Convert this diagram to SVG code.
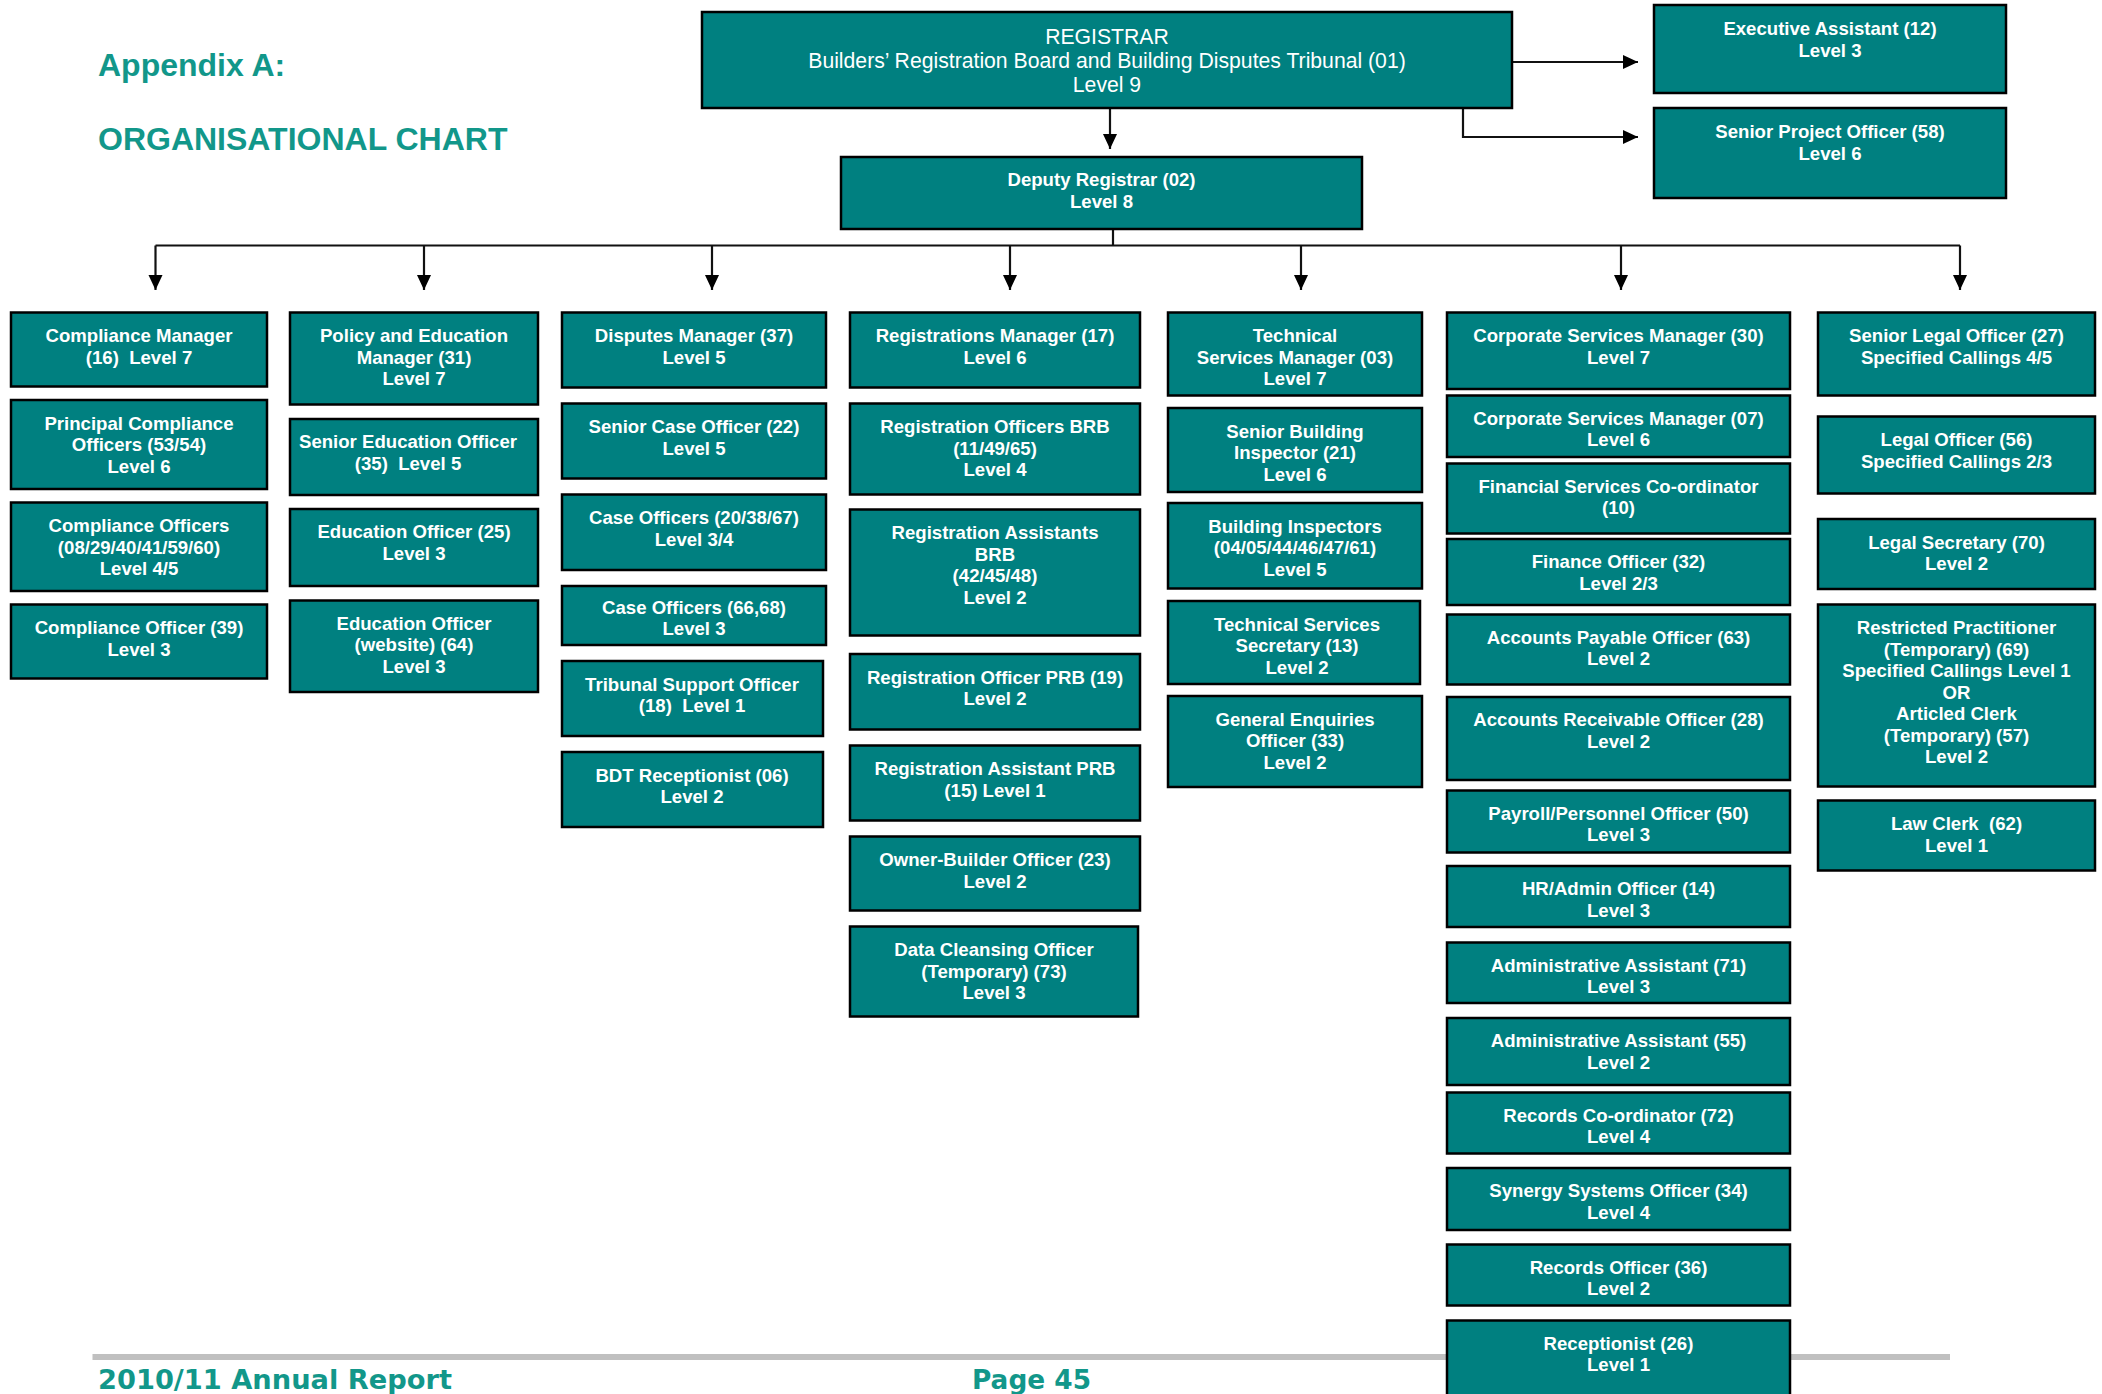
<svg xmlns="http://www.w3.org/2000/svg" width="2102" height="1394" viewBox="0 0 2102 1394">
<defs>
<style>
.box{fill:#008080;stroke:#000;stroke-width:2.5}
.t{font-family:"Liberation Sans",Arial,sans-serif;font-weight:bold;font-size:18.6px;fill:#fff;text-anchor:middle;white-space:pre}
.tr{font-family:"Liberation Sans",Arial,sans-serif;font-size:21.2px;fill:#fff;text-anchor:middle}
.title{font-family:"Liberation Sans",Arial,sans-serif;font-weight:bold;font-size:32px;fill:#12978a}
.foot{font-family:"DejaVu Sans",Verdana,sans-serif;font-weight:bold;font-size:26.8px;fill:#12978a}
.ln{fill:none;stroke:#111;stroke-width:2.2}
</style>
<marker id="ah" markerUnits="userSpaceOnUse" markerWidth="16" markerHeight="15" refX="15" refY="7" orient="auto">
<path d="M0,0 L15,7 L0,14 z" fill="#000"/>
</marker>
</defs>
<rect width="2102" height="1394" fill="#fff"/>

<text class="title" x="98" y="76">Appendix A:</text>
<text class="title" x="98" y="150">ORGANISATIONAL CHART</text>

<rect x="92.5" y="1354" width="1857.5" height="6" fill="#c0c0c0"/>
<text class="foot" x="98" y="1389" textLength="354" lengthAdjust="spacingAndGlyphs">2010/11 Annual Report</text>
<text class="foot" x="972" y="1389" textLength="119" lengthAdjust="spacingAndGlyphs">Page 45</text>

<g id="connectors">
<line class="ln" x1="1110" y1="108" x2="1110" y2="149" marker-end="url(#ah)"/>
<line class="ln" x1="1512" y1="62" x2="1638" y2="62" marker-end="url(#ah)"/>
<path class="ln" d="M1463,108 V137 H1638" marker-end="url(#ah)"/>
<line class="ln" x1="1113" y1="229" x2="1113" y2="245.5"/>
<line class="ln" x1="155.5" y1="245.5" x2="1960" y2="245.5"/>
<line class="ln" x1="155.5" y1="245.5" x2="155.5" y2="290" marker-end="url(#ah)"/>
<line class="ln" x1="424" y1="245.5" x2="424" y2="290" marker-end="url(#ah)"/>
<line class="ln" x1="712" y1="245.5" x2="712" y2="290" marker-end="url(#ah)"/>
<line class="ln" x1="1010" y1="245.5" x2="1010" y2="290" marker-end="url(#ah)"/>
<line class="ln" x1="1301" y1="245.5" x2="1301" y2="290" marker-end="url(#ah)"/>
<line class="ln" x1="1621" y1="245.5" x2="1621" y2="290" marker-end="url(#ah)"/>
<line class="ln" x1="1960" y1="245.5" x2="1960" y2="290" marker-end="url(#ah)"/>
</g>

<g id="registrar"><rect class="box" x="702" y="12" width="810" height="96"/>
<text class="tr" x="1107" y="44">REGISTRAR<tspan x="1107" dy="24">Builders’ Registration Board and Building Disputes Tribunal (01)</tspan><tspan x="1107" dy="24">Level 9</tspan></text></g>
<g id="deputy"><rect class="box" x="841" y="157" width="521" height="72"/>
<text class="t" x="1101.5" y="186">Deputy Registrar (02)<tspan x="1101.5" dy="21.5">Level 8</tspan></text></g>
<g id="exec-assistant"><rect class="box" x="1654" y="5" width="352" height="88"/>
<text class="t" x="1830" y="35">Executive Assistant (12)<tspan x="1830" dy="21.5">Level 3</tspan></text></g>
<g id="senior-project"><rect class="box" x="1654" y="108" width="352" height="90"/>
<text class="t" x="1830" y="138">Senior Project Officer (58)<tspan x="1830" dy="21.5">Level 6</tspan></text></g>

<!-- Column 1 -->
<g id="compliance-manager"><rect class="box" x="11" y="312.5" width="256" height="74"/>
<text class="t" x="139" y="342" xml:space="preserve">Compliance Manager<tspan x="139" dy="21.5">(16)  Level 7</tspan></text></g>
<g id="principal-compliance"><rect class="box" x="11" y="400" width="256" height="89"/>
<text class="t" x="139" y="429.5">Principal Compliance<tspan x="139" dy="21.5">Officers (53/54)</tspan><tspan x="139" dy="21.5">Level 6</tspan></text></g>
<g id="compliance-officers"><rect class="box" x="11" y="502.5" width="256" height="88.5"/>
<text class="t" x="139" y="532">Compliance Officers<tspan x="139" dy="21.5">(08/29/40/41/59/60)</tspan><tspan x="139" dy="21.5">Level 4/5</tspan></text></g>
<g id="compliance-officer-39"><rect class="box" x="11" y="604.5" width="256" height="74"/>
<text class="t" x="139" y="634">Compliance Officer (39)<tspan x="139" dy="21.5">Level 3</tspan></text></g>

<!-- Column 2 -->
<g id="policy-manager"><rect class="box" x="290" y="312.5" width="248" height="92"/>
<text class="t" x="414" y="342">Policy and Education<tspan x="414" dy="21.5">Manager (31)</tspan><tspan x="414" dy="21.5">Level 7</tspan></text></g>
<g id="senior-education"><rect class="box" x="290" y="419" width="248" height="76"/>
<text class="t" x="408" y="448" xml:space="preserve">Senior Education Officer<tspan x="408" dy="21.5">(35)  Level 5</tspan></text></g>
<g id="education-25"><rect class="box" x="290" y="509" width="248" height="77"/>
<text class="t" x="414" y="538">Education Officer (25)<tspan x="414" dy="21.5">Level 3</tspan></text></g>
<g id="education-64"><rect class="box" x="290" y="600.5" width="248" height="91.5"/>
<text class="t" x="414" y="629.5">Education Officer<tspan x="414" dy="21.5">(website) (64)</tspan><tspan x="414" dy="21.5">Level 3</tspan></text></g>

<!-- Column 3 -->
<g id="disputes-manager"><rect class="box" x="562" y="312.5" width="264" height="75"/>
<text class="t" x="694" y="342">Disputes Manager (37)<tspan x="694" dy="21.5">Level 5</tspan></text></g>
<g id="senior-case"><rect class="box" x="562" y="403.5" width="264" height="75"/>
<text class="t" x="694" y="433">Senior Case Officer (22)<tspan x="694" dy="21.5">Level 5</tspan></text></g>
<g id="case-officers-1"><rect class="box" x="562" y="494.5" width="264" height="75.5"/>
<text class="t" x="694" y="524">Case Officers (20/38/67)<tspan x="694" dy="21.5">Level 3/4</tspan></text></g>
<g id="case-officers-2"><rect class="box" x="562" y="586" width="264" height="59"/>
<text class="t" x="694" y="613.5">Case Officers (66,68)<tspan x="694" dy="21.5">Level 3</tspan></text></g>
<g id="tribunal-support"><rect class="box" x="562" y="661" width="261" height="75"/>
<text class="t" x="692" y="690.5" xml:space="preserve">Tribunal Support Officer<tspan x="692" dy="21.5">(18)  Level 1</tspan></text></g>
<g id="bdt-receptionist"><rect class="box" x="562" y="752" width="261" height="75"/>
<text class="t" x="692" y="781.5">BDT Receptionist (06)<tspan x="692" dy="21.5">Level 2</tspan></text></g>

<!-- Column 4 -->
<g id="registrations-manager"><rect class="box" x="850" y="312.5" width="290" height="75"/>
<text class="t" x="995" y="342">Registrations Manager (17)<tspan x="995" dy="21.5">Level 6</tspan></text></g>
<g id="registration-officers-brb"><rect class="box" x="850" y="403.5" width="290" height="91"/>
<text class="t" x="995" y="433">Registration Officers BRB<tspan x="995" dy="21.5">(11/49/65)</tspan><tspan x="995" dy="21.5">Level 4</tspan></text></g>
<g id="registration-assistants-brb"><rect class="box" x="850" y="509.5" width="290" height="126"/>
<text class="t" x="995" y="539">Registration Assistants<tspan x="995" dy="21.5">BRB</tspan><tspan x="995" dy="21.5">(42/45/48)</tspan><tspan x="995" dy="21.5">Level 2</tspan></text></g>
<g id="registration-officer-prb"><rect class="box" x="850" y="654" width="290" height="75.5"/>
<text class="t" x="995" y="683.5">Registration Officer PRB (19)<tspan x="995" dy="21.5">Level 2</tspan></text></g>
<g id="registration-assistant-prb"><rect class="box" x="850" y="745.5" width="290" height="75"/>
<text class="t" x="995" y="775">Registration Assistant PRB<tspan x="995" dy="21.5">(15) Level 1</tspan></text></g>
<g id="owner-builder"><rect class="box" x="850" y="836.5" width="290" height="74"/>
<text class="t" x="995" y="866">Owner-Builder Officer (23)<tspan x="995" dy="21.5">Level 2</tspan></text></g>
<g id="data-cleansing"><rect class="box" x="850" y="926.5" width="288" height="90"/>
<text class="t" x="994" y="956">Data Cleansing Officer<tspan x="994" dy="21.5">(Temporary) (73)</tspan><tspan x="994" dy="21.5">Level 3</tspan></text></g>

<!-- Column 5 -->
<g id="technical-manager"><rect class="box" x="1168" y="312.5" width="254" height="83"/>
<text class="t" x="1295" y="342">Technical<tspan x="1295" dy="21.5">Services Manager (03)</tspan><tspan x="1295" dy="21.5">Level 7</tspan></text></g>
<g id="senior-building-inspector"><rect class="box" x="1168" y="408" width="254" height="84"/>
<text class="t" x="1295" y="437.5">Senior Building<tspan x="1295" dy="21.5">Inspector (21)</tspan><tspan x="1295" dy="21.5">Level 6</tspan></text></g>
<g id="building-inspectors"><rect class="box" x="1168" y="503" width="254" height="85.5"/>
<text class="t" x="1295" y="532.5">Building Inspectors<tspan x="1295" dy="21.5">(04/05/44/46/47/61)</tspan><tspan x="1295" dy="21.5">Level 5</tspan></text></g>
<g id="technical-secretary"><rect class="box" x="1168" y="601" width="252" height="83"/>
<text class="t" x="1297" y="630.5">Technical Services<tspan x="1297" dy="21.5">Secretary (13)</tspan><tspan x="1297" dy="21.5">Level 2</tspan></text></g>
<g id="general-enquiries"><rect class="box" x="1168" y="696" width="254" height="91"/>
<text class="t" x="1295" y="725.5">General Enquiries<tspan x="1295" dy="21.5">Officer (33)</tspan><tspan x="1295" dy="21.5">Level 2</tspan></text></g>

<!-- Column 6 -->
<g id="corporate-manager-30"><rect class="box" x="1447" y="312.5" width="343" height="76.5"/>
<text class="t" x="1618.5" y="342">Corporate Services Manager (30)<tspan x="1618.5" dy="21.5">Level 7</tspan></text></g>
<g id="corporate-manager-07"><rect class="box" x="1447" y="395.5" width="343" height="61.5"/>
<text class="t" x="1618.5" y="424.5">Corporate Services Manager (07)<tspan x="1618.5" dy="21.5">Level 6</tspan></text></g>
<g id="financial-coordinator"><rect class="box" x="1447" y="463.5" width="343" height="70"/>
<text class="t" x="1618.5" y="492.5">Financial Services Co-ordinator<tspan x="1618.5" dy="21.5">(10)</tspan></text></g>
<g id="finance-officer"><rect class="box" x="1447" y="539" width="343" height="66"/>
<text class="t" x="1618.5" y="568">Finance Officer (32)<tspan x="1618.5" dy="21.5">Level 2/3</tspan></text></g>
<g id="accounts-payable"><rect class="box" x="1447" y="614.5" width="343" height="70"/>
<text class="t" x="1618.5" y="643.5">Accounts Payable Officer (63)<tspan x="1618.5" dy="21.5">Level 2</tspan></text></g>
<g id="accounts-receivable"><rect class="box" x="1447" y="697" width="343" height="83"/>
<text class="t" x="1618.5" y="726">Accounts Receivable Officer (28)<tspan x="1618.5" dy="21.5">Level 2</tspan></text></g>
<g id="payroll"><rect class="box" x="1447" y="790.5" width="343" height="62"/>
<text class="t" x="1618.5" y="819.5">Payroll/Personnel Officer (50)<tspan x="1618.5" dy="21.5">Level 3</tspan></text></g>
<g id="hr-admin"><rect class="box" x="1447" y="866" width="343" height="61"/>
<text class="t" x="1618.5" y="895">HR/Admin Officer (14)<tspan x="1618.5" dy="21.5">Level 3</tspan></text></g>
<g id="admin-assistant-71"><rect class="box" x="1447" y="942.5" width="343" height="60.5"/>
<text class="t" x="1618.5" y="971.5">Administrative Assistant (71)<tspan x="1618.5" dy="21.5">Level 3</tspan></text></g>
<g id="admin-assistant-55"><rect class="box" x="1447" y="1018" width="343" height="67"/>
<text class="t" x="1618.5" y="1047">Administrative Assistant (55)<tspan x="1618.5" dy="21.5">Level 2</tspan></text></g>
<g id="records-coordinator"><rect class="box" x="1447" y="1092.5" width="343" height="61"/>
<text class="t" x="1618.5" y="1121.5">Records Co-ordinator (72)<tspan x="1618.5" dy="21.5">Level 4</tspan></text></g>
<g id="synergy"><rect class="box" x="1447" y="1168" width="343" height="62"/>
<text class="t" x="1618.5" y="1197">Synergy Systems Officer (34)<tspan x="1618.5" dy="21.5">Level 4</tspan></text></g>
<g id="records-officer"><rect class="box" x="1447" y="1244.5" width="343" height="61"/>
<text class="t" x="1618.5" y="1273.5">Records Officer (36)<tspan x="1618.5" dy="21.5">Level 2</tspan></text></g>
<g id="receptionist"><rect class="box" x="1447" y="1320.5" width="343" height="90"/>
<text class="t" x="1618.5" y="1349.5">Receptionist (26)<tspan x="1618.5" dy="21.5">Level 1</tspan></text></g>

<!-- Column 7 -->
<g id="senior-legal"><rect class="box" x="1818" y="312.5" width="277" height="83"/>
<text class="t" x="1956.5" y="342">Senior Legal Officer (27)<tspan x="1956.5" dy="21.5">Specified Callings 4/5</tspan></text></g>
<g id="legal-officer"><rect class="box" x="1818" y="416.5" width="277" height="77"/>
<text class="t" x="1956.5" y="446">Legal Officer (56)<tspan x="1956.5" dy="21.5">Specified Callings 2/3</tspan></text></g>
<g id="legal-secretary"><rect class="box" x="1818" y="519" width="277" height="70"/>
<text class="t" x="1956.5" y="548.5">Legal Secretary (70)<tspan x="1956.5" dy="21.5">Level 2</tspan></text></g>
<g id="restricted-practitioner"><rect class="box" x="1818" y="604.5" width="277" height="182"/>
<text class="t" x="1956.5" y="634">Restricted Practitioner<tspan x="1956.5" dy="21.5">(Temporary) (69)</tspan><tspan x="1956.5" dy="21.5">Specified Callings Level 1</tspan><tspan x="1956.5" dy="21.5">OR</tspan><tspan x="1956.5" dy="21.5">Articled Clerk</tspan><tspan x="1956.5" dy="21.5">(Temporary) (57)</tspan><tspan x="1956.5" dy="21.5">Level 2</tspan></text></g>
<g id="law-clerk"><rect class="box" x="1818" y="800.5" width="277" height="70"/>
<text class="t" x="1956.5" y="830" xml:space="preserve">Law Clerk  (62)<tspan x="1956.5" dy="21.5">Level 1</tspan></text></g>
</svg>
